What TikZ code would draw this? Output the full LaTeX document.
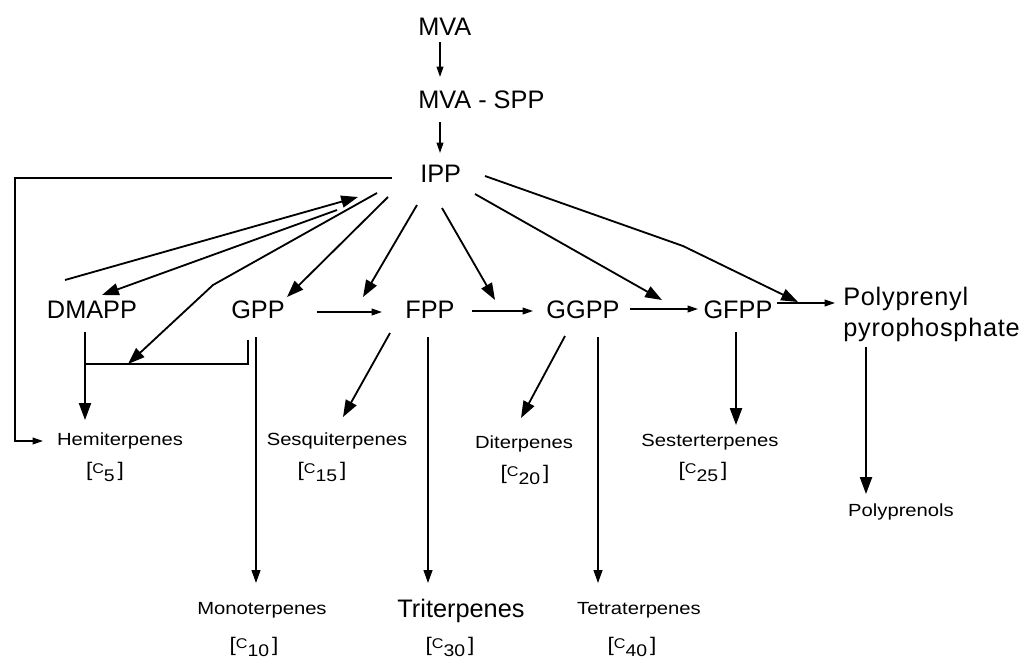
\documentclass[tikz,border=0pt]{standalone}
\usepackage{fontspec}
\setmainfont{Liberation Sans}
\newfontfamily\prodfont[FakeStretch=1.15]{Liberation Sans}
\usetikzlibrary{arrows.meta,calc,positioning}
\tikzset{
  comp/.style={font=\fontsize{18}{21}\selectfont, inner sep=0pt},
  prod/.style={font=\prodfont\fontsize{12.5}{14}\selectfont, inner sep=0pt},
  big/.style={line width=1.3pt, -{Triangle[length=4.2mm,width=3mm]}},
  mid/.style={line width=1pt, -{Triangle[length=3.2mm,width=2.2mm]}},
  small/.style={line width=1pt, -{Triangle[length=2.6mm,width=1.7mm]}},
}
\newcommand{\cnum}[1]{{\fontsize{14}{16}\selectfont[}\raisebox{.3ex}{\fontsize{10}{12}\selectfont C}\raisebox{-.55ex}{\fontsize{12}{14}\selectfont #1}\,{\fontsize{14}{16}\selectfont]}}

\begin{document}
\begin{tikzpicture}[x=0.025cm, y=-0.025cm]
    \useasboundingbox (0,0) rectangle (1036,665);

    \node[comp, anchor=west] (mva) at (418,27) {MVA};
    \node[comp, anchor=west] (mvaspp) at (418,100) {MVA - SPP};
    \node[comp, anchor=west] (ipp) at (420,174) {IPP};

    \node[comp] (dmapp) at (92,310) {DMAPP};
    \node[comp] (gpp) at (258,310) {GPP};
    \node[comp] (fpp) at (430,310) {FPP};
    \node[comp] (ggpp) at (583,310) {GGPP};
    \node[comp] (gfpp) at (738,310) {GFPP};
    \node[comp, anchor=west, align=left, font=\addfontfeature{LetterSpace=3}\fontsize{18}{22}\selectfont] (poly) at (843,314) {Polyprenyl\\pyrophosphate};

    \node[prod] (hemi) at (120,441) {Hemiterpenes};
    \node[prod] (hemic) at (105,472) {\cnum{5}};
    \node[prod] (sesqui) at (337,441) {Sesquiterpenes};
    \node[prod] (sesquic) at (322,472) {\cnum{15}};
    \node[prod] (di) at (524,444) {Diterpenes};
    \node[prod] (dic) at (525,475) {\cnum{20}};
    \node[prod] (sester) at (710,442) {Sesterterpenes};
    \node[prod] (sesterc) at (703,472) {\cnum{25}};
    \node[prod] (polyol) at (901,512) {Polyprenols};
    \node[prod] (mono) at (262,610) {Monoterpenes};
    \node[prod] (monoc) at (254,647) {\cnum{10}};
    \node[comp] (tri) at (461,611) {Triterpenes};
    \node[prod] (tric) at (450,647) {\cnum{30}};
    \node[prod] (tetra) at (639,610) {Tetraterpenes};
    \node[prod] (tetrac) at (632,647) {\cnum{40}};

    \coordinate (lbr) at ($(dmapp)+(-7,54)$);
    \coordinate (rbr) at ($(gpp)+(-10,54)$);

    \draw[small] ($(mva.west)+(22,15)$) -- ($(mvaspp.west)+(22,-23)$);
    \draw[small] ($(mvaspp.west)+(22,22)$) -- ($(ipp.west)+(20,-21)$);
    \draw[small] ($(ipp.west)+(-28,4)$) -| ($(hemi)+(-105,0)$) -- ($(hemi)+(-77,0)$);

    \draw[big] ($(dmapp)+(-27,-30)$) -- ($(ipp.west)+(-62,23)$);
    \draw[big] ($(ipp.west)+(-83,36)$) -- ($(dmapp)+(10,-15)$);
    \draw[big] ($(ipp.west)+(-43,19)$) -- ($(gpp)+(-45,-25)$) -- ($(lbr)+(43,0)$);
    \draw[big] ($(ipp.west)+(-32,23)$) -- ($(gpp)+(29,-13)$);
    \draw[big] ($(ipp.west)+(-3,31)$) -- ($(fpp)+(-67,-13)$);
    \draw[big] ($(ipp.west)+(22,34)$) -- ($(ggpp)+(-88,-10)$);
    \draw[big] ($(ipp.west)+(55,20)$) -- ($(gfpp)+(-76,-10)$);
    \draw[big] ($(ipp.west)+(65,2)$) -- ($(gfpp)+(-55,-64)$) -- ($(poly.west)+(-45,-12)$);

    \draw[small] ($(gpp)+(59,2)$) -- ($(fpp)+(-48,2)$);
    \draw[small] ($(fpp)+(42,1)$) -- ($(ggpp)+(-50,1)$);
    \draw[small] ($(ggpp)+(47,-1)$) -- ($(gfpp)+(-40,-1)$);
    \draw[small] ($(gfpp)+(39,-7)$) -- ($(poly.west)+(-8,-11)$);

    \draw[big] ($(dmapp)+(-7,22)$) -- ($(hemi)+(-35,-21)$);
    \draw[line width=1pt] (lbr) -- (rbr) -- ++(0,-24);
    \draw[mid] ($(gpp)+(-2,27)$) -- ($(mono)+(-6,-27)$);
    \draw[big] ($(fpp)+(-40,23)$) -- ($(sesqui)+(6,-24)$);
    \draw[mid] ($(fpp)+(-2,27)$) -- ($(tri)+(-33,-28)$);
    \draw[big] ($(ggpp)+(-18,26)$) -- ($(di)+(-3,-26)$);
    \draw[mid] ($(ggpp)+(15,27)$) -- ($(tetra)+(-41,-27)$);
    \draw[big] ($(gfpp)+(-2,22)$) -- ($(sester)+(26,-17)$);
    \draw[big] ($(poly.west)+(23,33)$) -- ($(polyol)+(-35,-18)$);
\end{tikzpicture}
\end{document}
